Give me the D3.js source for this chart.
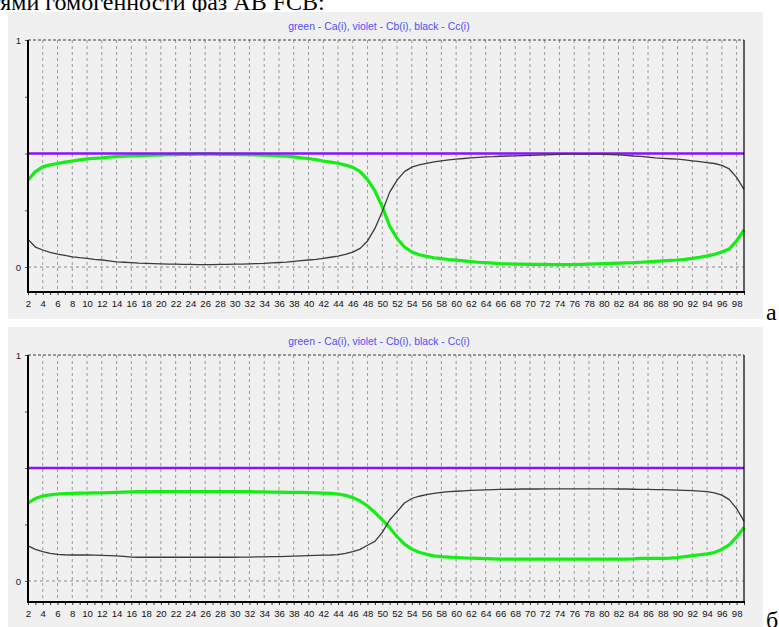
<!DOCTYPE html>
<html><head><meta charset="utf-8">
<script src="https://cdn.jsdelivr.net/npm/d3@7"></script>
<style>body{margin:0;background:#fff;} svg{display:block}</style>
</head><body><svg id="c" width="779" height="627"></svg>
<script>
// ---- data ----
const steps = d3.range(2, 100);            // i = 2 .. 99
const labelTicks = d3.range(2, 99, 2);     // 2, 4, ... 98
const gridTicks = d3.range(4, 99, 2);
const yTicks = [0, 0.25, 0.5, 0.75, 1];
const titleText = "green - Ca(i), violet - Cb(i), black - Cc(i)";
const violetX = [2, 99];
const violetA = [0.5, 0.5];
const violetB = [0.5, 0.5];

const greenA = [
0.383,0.42,0.441,0.45,0.456,0.462,0.467,0.472,0.476,0.479,
0.481,0.484,0.486,0.488,0.49,0.491,0.492,0.493,0.494,0.495,
0.495,0.496,0.496,0.497,0.497,0.497,0.496,0.496,0.496,0.495,
0.495,0.494,0.493,0.492,0.49,0.488,0.485,0.481,0.478,0.473,
0.467,0.462,0.457,0.449,0.439,0.42,0.385,0.335,0.265,0.18,
0.126,0.088,0.066,0.054,0.047,0.041,0.037,0.033,0.03,0.027,
0.024,0.021,0.019,0.017,0.015,0.014,0.013,0.013,0.012,0.012,
0.012,0.011,0.011,0.011,0.011,0.012,0.013,0.014,0.015,0.016,
0.017,0.018,0.019,0.021,0.023,0.025,0.027,0.029,0.031,0.034,
0.038,0.043,0.049,0.056,0.066,0.079,0.115,0.163];
const blackA = [
0.122,0.088,0.075,0.065,0.057,0.051,0.045,0.041,0.038,0.034,
0.031,0.027,0.023,0.021,0.019,0.017,0.016,0.015,0.014,0.013,
0.013,0.012,0.012,0.011,0.011,0.011,0.012,0.012,0.013,0.013,
0.014,0.015,0.016,0.018,0.02,0.022,0.025,0.028,0.031,0.034,
0.038,0.043,0.048,0.056,0.066,0.082,0.115,0.17,0.245,0.33,
0.383,0.42,0.44,0.45,0.457,0.463,0.468,0.472,0.475,0.478,
0.481,0.483,0.485,0.486,0.488,0.489,0.49,0.491,0.492,0.493,
0.494,0.495,0.496,0.497,0.497,0.497,0.497,0.497,0.496,0.495,
0.494,0.492,0.489,0.487,0.484,0.481,0.479,0.477,0.475,0.472,
0.468,0.464,0.46,0.456,0.448,0.432,0.395,0.342];
const greenB = [
0.345,0.365,0.376,0.381,0.385,0.387,0.388,0.389,0.389,0.39,
0.39,0.391,0.392,0.393,0.394,0.395,0.395,0.396,0.396,0.396,
0.396,0.396,0.396,0.396,0.396,0.396,0.396,0.396,0.396,0.395,
0.395,0.394,0.394,0.393,0.393,0.392,0.392,0.392,0.391,0.39,
0.389,0.388,0.385,0.379,0.369,0.354,0.332,0.303,0.27,0.236,
0.196,0.163,0.141,0.127,0.118,0.111,0.108,0.106,0.104,0.102,
0.101,0.1,0.099,0.098,0.097,0.097,0.097,0.097,0.097,0.097,
0.097,0.097,0.097,0.097,0.097,0.097,0.097,0.097,0.097,0.097,
0.097,0.097,0.098,0.1,0.1,0.1,0.1,0.101,0.104,0.108,0.112,
0.116,0.12,0.126,0.14,0.16,0.195,0.237];
const blackB = [
0.155,0.14,0.13,0.122,0.118,0.116,0.115,0.115,0.115,0.114,
0.113,0.112,0.111,0.109,0.106,0.105,0.105,0.105,0.105,0.105,
0.105,0.105,0.105,0.105,0.105,0.105,0.105,0.105,0.105,0.106,
0.106,0.107,0.107,0.108,0.108,0.109,0.11,0.111,0.112,0.113,
0.114,0.115,0.117,0.122,0.13,0.14,0.158,0.175,0.215,0.27,
0.307,0.345,0.365,0.375,0.382,0.388,0.392,0.395,0.397,0.399,
0.401,0.402,0.403,0.404,0.405,0.406,0.406,0.407,0.407,0.407,
0.408,0.408,0.408,0.408,0.408,0.408,0.408,0.408,0.408,0.408,
0.407,0.407,0.406,0.405,0.405,0.404,0.404,0.403,0.402,0.401,
0.4,0.398,0.395,0.39,0.38,0.36,0.32,0.265];

// ---- drawing ----
const svg = d3.select("#c");
svg.append("rect").attr("width",779).attr("height",627).attr("fill","#fff");

// cut-off line of document text above the figure
svg.append("text").attr("x", -10).attr("y", 10)
  .attr("font-family","'Liberation Serif','Times New Roman',serif")
  .attr("font-size", 24).attr("fill","#000")
  .text("тями гомогенности фаз AB FCB:");

function drawChart(cfg) {
  const g = svg.append("g");
  g.append("rect").attr("x", cfg.px).attr("y", cfg.py).attr("width", cfg.pw).attr("height", cfg.ph)
    .attr("fill", "#f0f0f0");

  const x = d3.scaleLinear().domain([2, 99]).range([28, 744]);
  const y = d3.scaleLinear().domain([cfg.ymin, 1]).range([cfg.axisY, cfg.topY]);

  g.append("text").attr("x", 379).attr("y", cfg.titleY).attr("text-anchor","middle")
    .attr("font-family","'Liberation Sans',Arial,sans-serif").attr("font-size", 10.4)
    .attr("fill","#4f4fff").text(titleText);

  // vertical dashed grid
  g.selectAll(".vg").data(gridTicks).enter().append("line")
    .attr("x1", d => x(d)).attr("x2", d => x(d))
    .attr("y1", y(1)).attr("y2", cfg.axisY)
    .attr("stroke", "#9a9a9a").attr("stroke-width", 1).attr("stroke-dasharray", "3,3");
  // horizontal dashed at 0 and 1
  g.append("line").attr("x1", x(2)).attr("x2", x(99)).attr("y1", y(0)).attr("y2", y(0))
    .attr("stroke", "#8a8a8a").attr("stroke-dasharray", "3,3");
  g.append("line").attr("x1", x(2)).attr("x2", x(99)).attr("y1", y(1)).attr("y2", y(1))
    .attr("stroke", "#404040").attr("stroke-dasharray", "3,2");

  const line = d3.line().x(d => x(d[0])).y(d => y(d[1]));
  g.append("path").datum(steps.map((s, k) => [s, cfg.green[k]]))
    .attr("d", line).attr("fill","none").attr("stroke","#14ee14").attr("stroke-width", 3.2)
    .attr("stroke-linejoin","round");
  g.append("path").datum(violetX.map((s, k) => [s, cfg.violet[k]]))
    .attr("d", line).attr("fill","none").attr("stroke","#8a10ff").attr("stroke-width", 2.4);
  g.append("path").datum(steps.map((s, k) => [s, cfg.black[k]]))
    .attr("d", line).attr("fill","none").attr("stroke","#3a3a3a").attr("stroke-width", 1.3)
    .attr("stroke-linejoin","round");

  // right border
  g.append("line").attr("x1", x(99)).attr("x2", x(99)).attr("y1", y(1)).attr("y2", cfg.axisY)
    .attr("stroke", "#000").attr("stroke-width", 1.2);

  // x axis
  const xa = g.append("g").attr("transform", `translate(0,${cfg.axisY})`)
    .call(d3.axisBottom(x).tickValues(steps).tickSize(3).tickFormat(""));
  xa.select(".domain").remove();
  xa.selectAll("line").attr("stroke", "#333");
  const xl = g.append("g").attr("transform", `translate(0,${cfg.axisY})`)
    .call(d3.axisBottom(x).tickValues(labelTicks).tickSize(0).tickPadding(8).tickFormat(d3.format("d")));
  xl.select(".domain").remove();
  xl.selectAll("text").attr("font-family","'Liberation Sans',Arial,sans-serif")
    .attr("font-size", 9.6).attr("fill", "#111");
  g.append("line").attr("x1", 27).attr("x2", x(99) + 1).attr("y1", cfg.axisY).attr("y2", cfg.axisY)
    .attr("stroke", "#000").attr("stroke-width", 2);

  // y axis
  const ya = g.append("g").attr("transform", "translate(28,0)")
    .call(d3.axisLeft(y).tickValues(yTicks).tickSize(3).tickPadding(4)
      .tickFormat(d => (d === 0 || d === 1) ? d3.format("d")(d) : ""));
  ya.select(".domain").remove();
  ya.selectAll("line").attr("stroke", "#555");
  ya.selectAll("text").attr("font-family","'Liberation Sans',Arial,sans-serif")
    .attr("font-size", 9.6).attr("fill", "#223");
  g.append("line").attr("x1", 28).attr("x2", 28).attr("y1", y(1)).attr("y2", cfg.axisY + 1)
    .attr("stroke", "#000").attr("stroke-width", 2);

  svg.append("text").attr("x", 766).attr("y", cfg.letterY)
    .attr("font-family","'Liberation Serif','Times New Roman',serif")
    .attr("font-size", 24).attr("fill","#000").text(cfg.letter);
}

drawChart({px: 8, py: 12, pw: 755, ph: 307, topY: 40, axisY: 292, ymin: -0.11, titleY: 30,
  green: greenA, black: blackA, violet: violetA, letter: "а", letterY: 320});
drawChart({px: 8, py: 327, pw: 755, ph: 300, topY: 355, axisY: 602, ymin: -0.093, titleY: 345,
  green: greenB, black: blackB, violet: violetB, letter: "б", letterY: 628});
</script></body></html>
